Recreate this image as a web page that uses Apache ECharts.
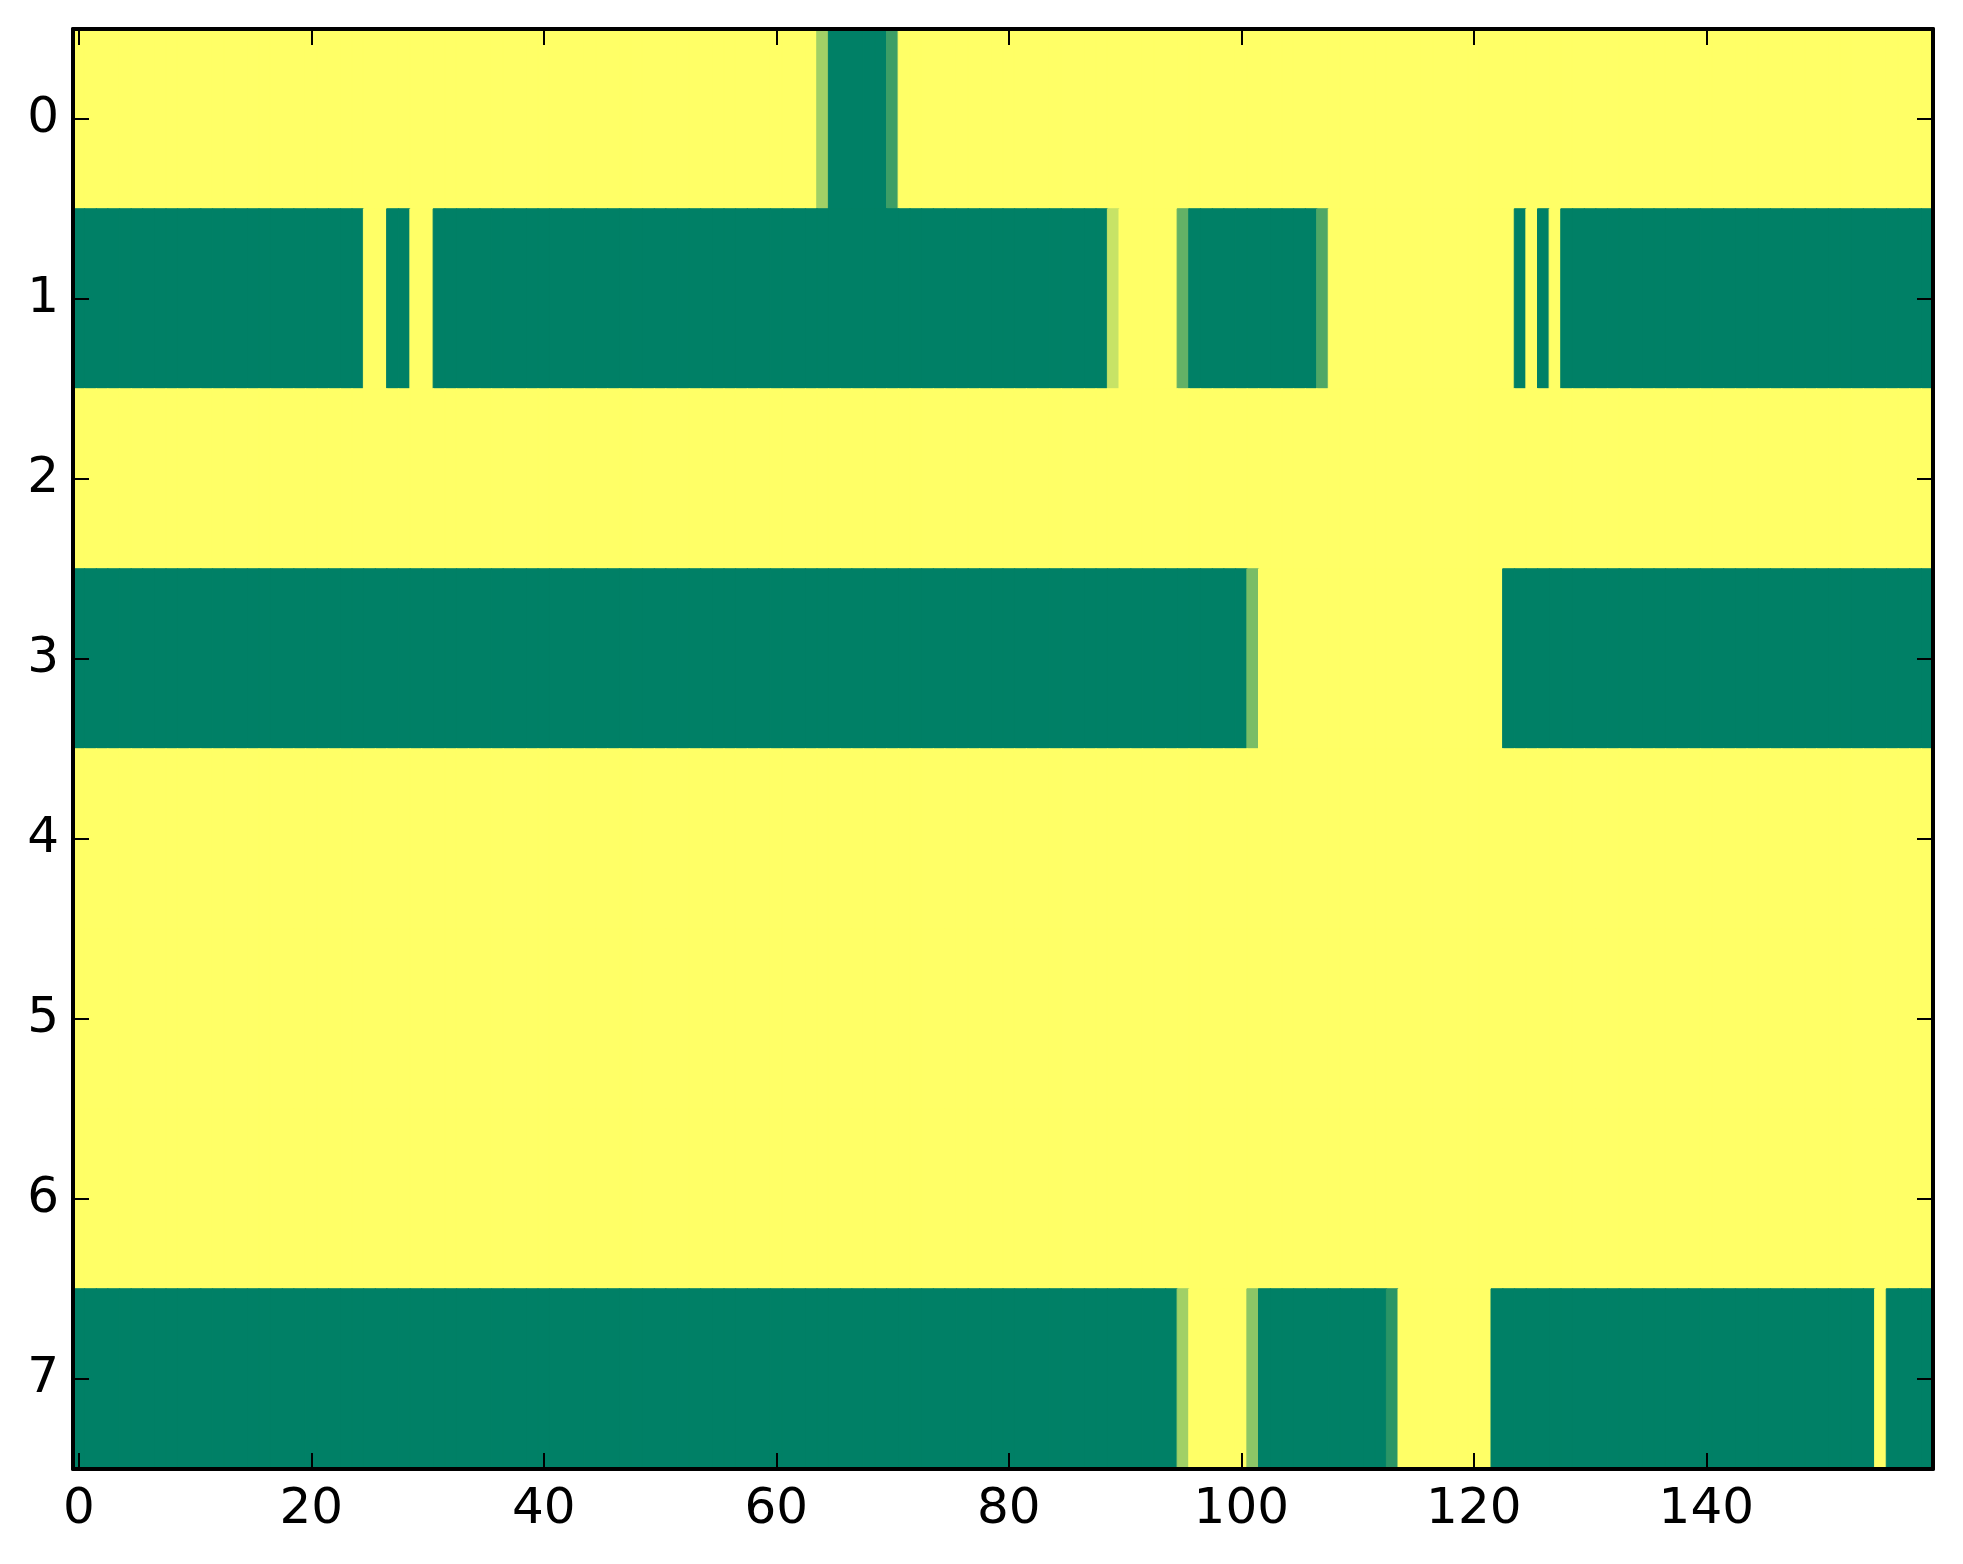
<!DOCTYPE html>
<html>
<head>
    <meta charset="utf-8">
    <title>ECharts</title>
    <script src="https://cdn.jsdelivr.net/npm/echarts@6/dist/echarts.min.js"></script>
    <style>
        html, body { margin: 0; padding: 0; background: #fff; }
    </style>
</head>
<body>

    <div id="main" style="width: 1963px;height:1564px;"></div>

    <script type="text/javascript">

        // rows of the image, top to bottom
        var rowNames = ['0', '1', '2', '3', '4', '5', '6', '7'];
        var columnCount = 160;
        var xTicks = [0, 20, 40, 60, 80, 100, 120, 140];

        // each row as runs of [value, number of columns], read left to right
        var row0 = [[1, 64], [0.63, 1], [0, 5], [0.24, 1], [1, 89]];
        var row1 = [[0, 25], [1, 2], [0, 2], [1, 2], [0, 58], [0.78, 1], [1, 5], [0.39, 1],
                    [0, 11], [0.31, 1], [1, 16], [0, 1], [1, 1], [0, 1], [1, 1], [0, 32]];
        var row2 = [[1, 160]];
        var row3 = [[0, 101], [0.48, 1], [1, 21], [0, 37]];
        var row4 = [[1, 160]];
        var row5 = [[1, 160]];
        var row6 = [[1, 160]];
        var row7 = [[0, 95], [0.63, 1], [1, 5], [0.55, 1], [0, 11], [0.17, 1], [1, 8],
                    [0, 33], [1, 1], [0, 4]];

        var allRows = [row0, row1, row2, row3, row4, row5, row6, row7];

        // "summer" colour map: 0 -> #008066, 1 -> #ffff66
        var summer = function (v) {
            var r = Math.round(255 * v);
            var g = Math.round(255 * (0.5 + 0.5 * v));
            return 'rgb(' + r + ',' + g + ',102)';
        };

        var columns = [];
        for (var c = 0; c < columnCount; c++) {
            columns.push(String(c));
        }

        var cells = [];
        allRows.forEach(function (runs, r) {
            var col = 0;
            runs.forEach(function (run) {
                var color = summer(run[0]);
                for (var k = 0; k < run[1]; k++) {
                    cells.push({
                        value: [col, r, run[0]],
                        itemStyle: { color: color, borderColor: color, borderWidth: 1 }
                    });
                    col++;
                }
            });
        });

        var labelFont = {
            fontFamily: 'DejaVu Sans',
            fontSize: 50,
            color: '#000'
        };
        var lineStyle = { color: '#000', width: 4 };
        var tickStyle = { color: '#000', width: 2 };
        var showTick = function (idx) { return xTicks.indexOf(idx) >= 0; };

        var makeX = function (pos, labels) {
            return {
                type: 'category',
                data: columns,
                position: pos,
                z: 10,
                axisLine: { show: true, onZero: false, lineStyle: lineStyle },
                axisTick: { show: true, inside: true, length: 16, alignWithLabel: true,
                            interval: showTick, lineStyle: tickStyle },
                axisLabel: labels ? Object.assign({ interval: showTick, margin: 16 }, labelFont)
                                  : { show: false },
                splitLine: { show: false }
            };
        };
        var makeY = function (pos, labels) {
            return {
                type: 'category',
                data: rowNames,
                inverse: true,
                position: pos,
                z: 10,
                axisLine: { show: true, onZero: false, lineStyle: lineStyle },
                axisTick: { show: true, inside: true, length: 16, alignWithLabel: true,
                            lineStyle: tickStyle },
                axisLabel: labels ? Object.assign({ margin: 14 }, labelFont) : { show: false },
                splitLine: { show: false }
            };
        };

        var myChart = echarts.init(document.getElementById('main'));
        var option = {
            animation: false,
            grid: {
                left: 73,
                top: 29,
                right: 30,
                bottom: 95
            },
            xAxis: [makeX('bottom', true), makeX('top', false)],
            yAxis: [makeY('left', true), makeY('right', false)],
            series: [
                {
                    type: 'heatmap',
                    xAxisIndex: 0,
                    yAxisIndex: 0,
                    data: cells,
                    z: 1,
                    emphasis: { disabled: true }
                }
            ]
        };
        myChart.setOption(option);
    </script>
</body>
</html>
